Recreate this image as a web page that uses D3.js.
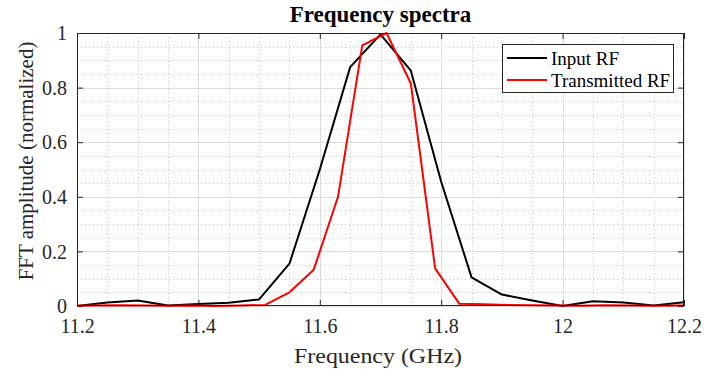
<!DOCTYPE html>
<html>
<head>
<meta charset="utf-8">
<script src="https://cdn.jsdelivr.net/npm/d3@7"></script>
<style>
  html, body { margin: 0; padding: 0; background: #fff; }
  svg { display: block; }
  svg text { font-family: "Liberation Serif", "Times New Roman", serif; }
</style>
</head>
<body>
<svg id="chart" width="711" height="369"></svg>
<script>
// Input RF spectrum, sampled every 50 MHz
const inputFreq = [11.2, 11.25, 11.3, 11.35, 11.4, 11.45, 11.5, 11.55, 11.6, 11.65, 11.7,
                   11.75, 11.8, 11.85, 11.9, 11.95, 12.0, 12.05, 12.1, 12.15, 12.2];
const inputAmp  = [0.0, 0.013, 0.02, 0.002, 0.007, 0.012, 0.024, 0.155, 0.5, 0.875, 0.995,
                   0.862, 0.455, 0.105, 0.042, 0.02, 0.0, 0.017, 0.013, 0.002, 0.014];

// Transmitted RF spectrum, sampled every 40 MHz
const transFreq = [11.19, 11.23, 11.27, 11.31, 11.35, 11.39, 11.43, 11.47, 11.51, 11.55, 11.59,
                   11.63, 11.67, 11.71, 11.75, 11.79, 11.83, 11.87, 11.91, 11.95, 11.99,
                   12.03, 12.07, 12.11, 12.15, 12.19, 12.23];
const transAmp  = [0.001, 0.002, 0.003, 0.002, 0.001, 0.002, 0.0, 0.002, 0.004, 0.05, 0.133,
                   0.4, 0.955, 1.0, 0.815, 0.138, 0.008, 0.006, 0.004, 0.003, 0.002,
                   0.001, 0.003, 0.002, 0.001, 0.002, 0.002];

const xTicks = [11.2, 11.4, 11.6, 11.8, 12, 12.2];
const yTicks = [0, 0.2, 0.4, 0.6, 0.8, 1];
const seriesNames = ["Input RF", "Transmitted RF"];
const seriesColors = ["#000000", "#ff0000"];

const serif = '"Liberation Serif", "Times New Roman", serif';
const svg = d3.select("#chart");
const m = { left: 77, right: 684, top: 33, bottom: 306 };

const x = d3.scaleLinear().domain([11.2, 12.2]).range([m.left, m.right]);
const y = d3.scaleLinear().domain([0, 1]).range([m.bottom, m.top]);

const xMinor = d3.range(0, 21).map(i => 11.2 + i * 0.05);
const yMinor = d3.range(0, 21).map(i => i * 0.05);

svg.append("defs").append("clipPath").attr("id", "plotClip")
  .append("rect").attr("x", m.left).attr("y", m.top - 2)
  .attr("width", m.right - m.left).attr("height", m.bottom - m.top + 4);

// minor grid (dotted)
const grid = svg.append("g");
grid.selectAll("line.vminor").data(xMinor).join("line")
  .attr("x1", d => Math.round(x(d)) + 0.5).attr("x2", d => Math.round(x(d)) + 0.5)
  .attr("y1", m.top).attr("y2", m.bottom)
  .attr("stroke", "#c4c4c4").attr("stroke-width", 1).attr("stroke-dasharray", "1,3");
grid.selectAll("line.hminor").data(yMinor).join("line")
  .attr("y1", d => Math.round(y(d)) + 0.5).attr("y2", d => Math.round(y(d)) + 0.5)
  .attr("x1", m.left).attr("x2", m.right)
  .attr("stroke", "#c4c4c4").attr("stroke-width", 1).attr("stroke-dasharray", "1,3");

// major grid (solid, light)
grid.selectAll("line.vmajor").data(xTicks).join("line")
  .attr("x1", d => Math.round(x(d)) + 0.5).attr("x2", d => Math.round(x(d)) + 0.5)
  .attr("y1", m.top).attr("y2", m.bottom)
  .attr("stroke", "#dcdcdc").attr("stroke-width", 1);
grid.selectAll("line.hmajor").data(yTicks).join("line")
  .attr("y1", d => Math.round(y(d)) + 0.5).attr("y2", d => Math.round(y(d)) + 0.5)
  .attr("x1", m.left).attr("x2", m.right)
  .attr("stroke", "#dcdcdc").attr("stroke-width", 1);

// axes with inward ticks on all four sides
const axisColor = "#262626";
const tickLen = 6;
const xBottom = svg.append("g").attr("transform", `translate(0,${m.bottom})`)
  .call(d3.axisBottom(x).tickValues(xTicks).tickSizeInner(-tickLen).tickSizeOuter(0)
    .tickPadding(13).tickFormat(d3.format("")));
const xTop = svg.append("g").attr("transform", `translate(0,${m.top})`)
  .call(d3.axisTop(x).tickValues(xTicks).tickSizeInner(-tickLen).tickSizeOuter(0).tickFormat(""));
const yLeft = svg.append("g").attr("transform", `translate(${m.left},0)`)
  .call(d3.axisLeft(y).tickValues(yTicks).tickSizeInner(-tickLen).tickSizeOuter(0)
    .tickPadding(10).tickFormat(d3.format("")));
const yRight = svg.append("g").attr("transform", `translate(${m.right},0)`)
  .call(d3.axisRight(y).tickValues(yTicks).tickSizeInner(-tickLen).tickSizeOuter(0).tickFormat(""));

[xBottom, xTop, yLeft, yRight].forEach(g => {
  g.attr("font-family", serif).attr("font-size", 20);
  g.select(".domain").remove();
  g.selectAll(".tick line").attr("stroke", axisColor).attr("stroke-width", 1);
  g.selectAll("text").attr("fill", "#262626");
});
xBottom.selectAll("text").attr("dy", "0.71em");
yLeft.selectAll("text").attr("dy", "0.33em");

// series lines
const line = d3.line().x(d => x(d[0])).y(d => y(d[1]));
const plot = svg.append("g").attr("clip-path", "url(#plotClip)");
plot.append("path").datum(d3.zip(inputFreq, inputAmp))
  .attr("d", line).attr("fill", "none")
  .attr("stroke", seriesColors[0]).attr("stroke-width", 2).attr("stroke-linejoin", "round");
plot.append("path").datum(d3.zip(transFreq, transAmp))
  .attr("d", line).attr("fill", "none")
  .attr("stroke", seriesColors[1]).attr("stroke-width", 2).attr("stroke-linejoin", "round");

// axes box
svg.append("rect")
  .attr("x", m.left + 0.5).attr("y", m.top + 0.5)
  .attr("width", m.right - m.left - 1).attr("height", m.bottom - m.top - 1)
  .attr("fill", "none").attr("stroke", axisColor).attr("stroke-width", 1);

// title and axis labels
svg.append("text")
  .attr("x", (m.left + m.right) / 2).attr("y", 22)
  .attr("text-anchor", "middle")
  .attr("font-family", serif).attr("font-weight", "bold").attr("font-size", 23).attr("fill", "#000")
  .text("Frequency spectra");

svg.append("text")
  .attr("x", 378).attr("y", 363)
  .attr("text-anchor", "middle")
  .attr("font-family", serif).attr("font-size", 21).attr("fill", "#262626")
  .attr("textLength", 168).attr("lengthAdjust", "spacingAndGlyphs")
  .text("Frequency (GHz)");

svg.append("text")
  .attr("transform", `translate(33,161) rotate(-90)`)
  .attr("text-anchor", "middle")
  .attr("font-family", serif).attr("font-size", 21).attr("fill", "#262626")
  .text("FFT amplitude (normalized)");

// legend
const lg = svg.append("g");
lg.append("rect")
  .attr("x", 502.5).attr("y", 44.5).attr("width", 171).attr("height", 48)
  .attr("fill", "#fff").attr("stroke", axisColor).attr("stroke-width", 1);
seriesNames.forEach((name, i) => {
  const cy = 58 + i * 22;
  lg.append("line").attr("x1", 507).attr("x2", 547).attr("y1", cy).attr("y2", cy)
    .attr("stroke", seriesColors[i]).attr("stroke-width", 2);
  lg.append("text").attr("x", 551).attr("y", cy).attr("dy", "0.35em")
    .attr("font-family", serif).attr("font-size", 19).attr("fill", "#000")
    .text(name);
});
</script>
</body>
</html>
